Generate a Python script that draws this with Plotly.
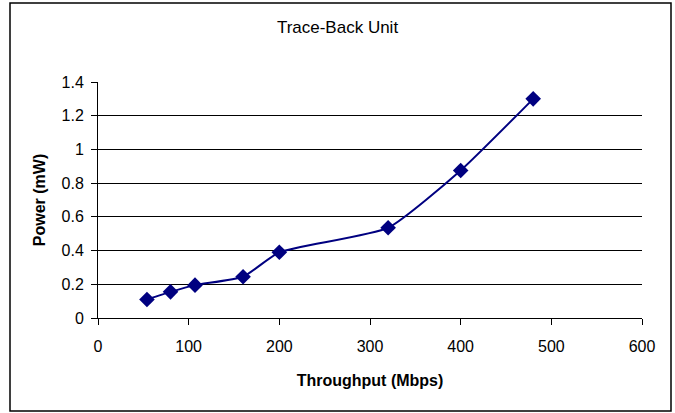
import plotly.graph_objects as go

throughput = [54, 80, 107, 160, 200, 320, 400, 480]
power = [0.11, 0.155, 0.195, 0.245, 0.39, 0.535, 0.875, 1.30]

W, H = 675, 413
ml, mr, mt, mb = 98, 33, 82, 95

fig = go.Figure()
fig.add_trace(go.Scatter(
    x=throughput, y=power, mode="lines+markers",
    line=dict(color="#000080", width=2, shape="spline", smoothing=0.5),
    marker=dict(symbol="diamond", size=12, color="#000080"),
    showlegend=False,
))

font_family = "Liberation Sans, Arial, sans-serif"
fig.update_layout(
    width=W, height=H,
    margin=dict(l=ml, r=mr, t=mt, b=mb),
    paper_bgcolor="white", plot_bgcolor="white",
    font=dict(family=font_family, size=16, color="black"),
    title=dict(text="Trace-Back Unit", x=0.5, xanchor="center",
               y=1 - 27 / H, yanchor="middle", yref="container",
               font=dict(size=17, family=font_family)),
    xaxis=dict(range=[0, 600], dtick=100, tick0=0, showgrid=False,
               showline=True, linecolor="black", linewidth=1,
               ticks="outside", ticklen=6, tickcolor="black",
               ticklabelstandoff=8,
               zeroline=False,
               title=dict(text="<b>Throughput (Mbps)</b>", standoff=20,
                          font=dict(size=16))),
    yaxis=dict(range=[0, 1.4], dtick=0.2, tick0=0, showgrid=True,
               gridcolor="black", gridwidth=1,
               showline=True, linecolor="black", linewidth=1,
               ticks="outside", ticklen=6, tickcolor="black",
               ticklabelstandoff=4,
               zeroline=False, tickformat="~g",
               title=dict(text="<b>Power (mW)</b>", standoff=11,
                          font=dict(size=16))),
)

pw = W - ml - mr
ph = H - mt - mb


def xpaper(px):
    return (px - ml) / pw


def ypaper(py):
    return (H - mb - py) / ph


fig.add_shape(type="rect", xref="paper", yref="paper",
              x0=xpaper(10), x1=xpaper(671), y0=ypaper(411), y1=ypaper(3),
              line=dict(color="black", width=1.5), layer="below")

fig.write_html("out.html", config={"displayModeBar": False},
               post_script="document.body.style.margin='0';document.body.style.overflow='hidden';")
